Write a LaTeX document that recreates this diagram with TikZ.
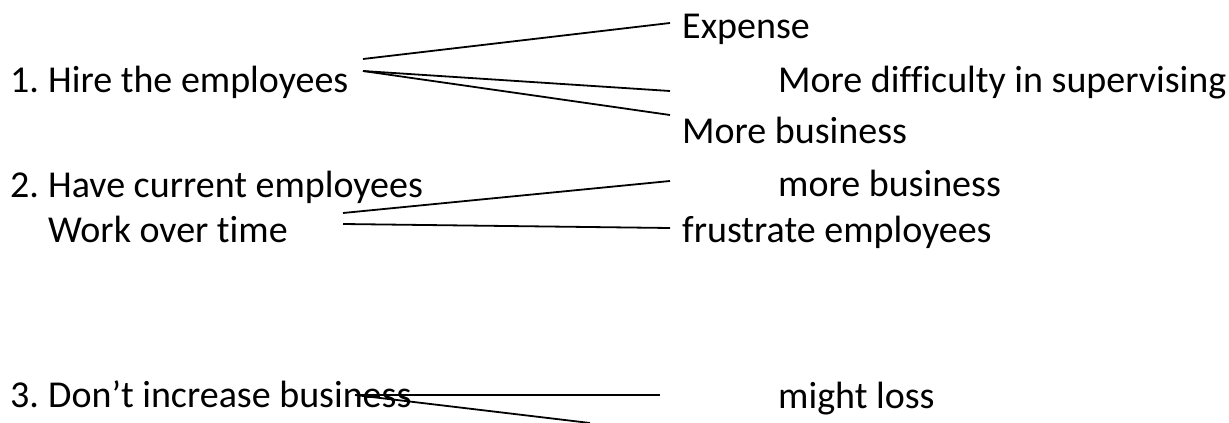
\documentclass[tikz,border=0pt]{standalone}
\usepackage{fontspec}
\setmainfont{Carlito}[Ligatures={NoCommon}]
\begin{document}
\begin{tikzpicture}[x=1pt,y=-1pt,
  txt/.style={anchor=base west,inner sep=0pt,font=\fontsize{38}{45}\selectfont},
  link/.style={line width=1.8pt,line cap=butt}]
\useasboundingbox (0,0) rectangle (1229,423);
\fill[white] (0,0) rectangle (1229,423);

% options on the left
\node[txt] (opt1) at (10,92) {\makebox[38pt][l]{1.}Hire the employees};
\node[txt] (opt2) at (10,197) {\makebox[38pt][l]{2.}Have current employees};
\node[txt] (opt2b) at (48,242) {Work over time};
\node[txt] (opt3) at (10,407) {\makebox[38pt][l]{3.}Don’t increase business};

% consequences on the right
\node[txt] (c1a) at (682,38) {Expense};
\node[txt] (c1b) at (778,92) {More difficulty in supervising};
\node[txt] (c1c) at (682,143) {More business};
\node[txt] (c2a) at (778,196) {more business};
\node[txt] (c2b) at (682,242) {frustrate employees};
\node[txt] (c3a) at (778,408) {might loss};

% end points of the branches
\coordinate (s1a) at (363,59);
\coordinate (s1b) at (363,71);
\coordinate (e1a) at (670,23);
\coordinate (e1b) at (670,91);
\coordinate (e1c) at (670,115);
\coordinate (s2a) at (343,213);
\coordinate (s2b) at (343,224);
\coordinate (e2a) at (670,181);
\coordinate (e2b) at (670,228);
\coordinate (s3) at (355,395);
\coordinate (e3a) at (660,395);
\coordinate (e3b) at (590,423);

\draw[link] (s1a) -- (e1a);
\draw[link] (s1b) -- (e1b);
\draw[link] (s1b) -- (e1c);
\draw[link] (s2a) -- (e2a);
\draw[link] (s2b) -- (e2b);
\draw[link] (s3) -- (e3a);
\draw[link] (s3) -- (e3b);
\end{tikzpicture}
\end{document}
